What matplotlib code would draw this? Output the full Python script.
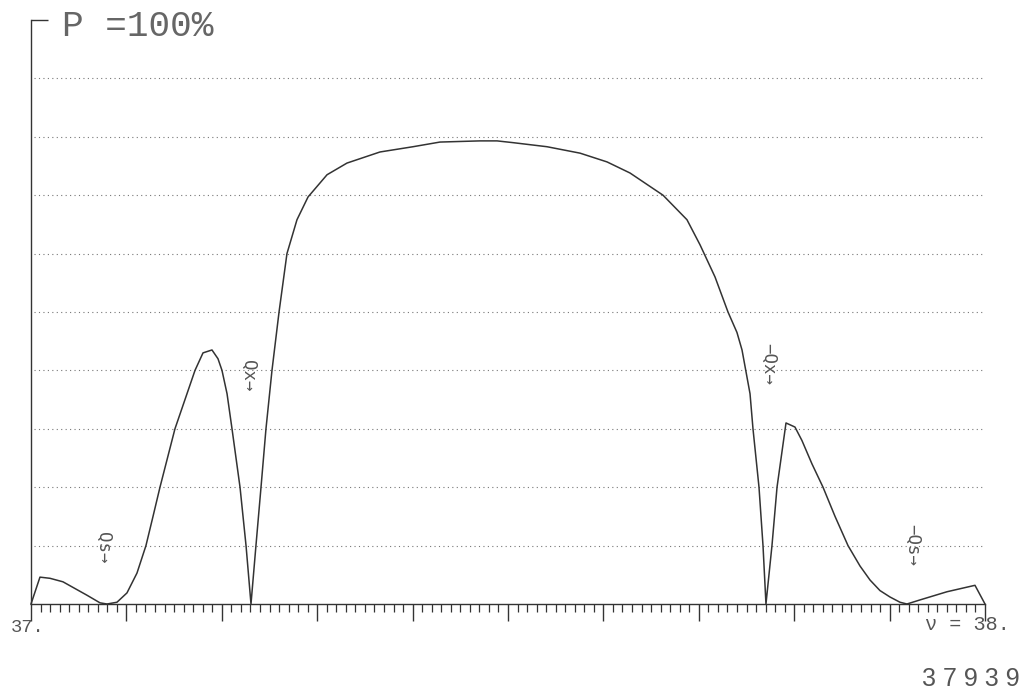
import numpy as np
import matplotlib
matplotlib.use("Agg")
import matplotlib.pyplot as plt
from matplotlib.ticker import MultipleLocator

# frequency (nu) and relative power P in percent
nu = [37.0000, 37.0094, 37.0199, 37.0335, 37.0587, 37.0723, 37.0797, 37.0901,
      37.1006, 37.1111, 37.1205, 37.1279, 37.1352, 37.1509, 37.1614, 37.1719,
      37.1803, 37.1897, 37.1960, 37.2002, 37.2055, 37.2107, 37.2191, 37.2254,
      37.2306, 37.2358, 37.2411, 37.2463, 37.2526, 37.2600, 37.2683, 37.2788,
      37.2904, 37.3103, 37.3312, 37.3658, 37.4004, 37.4287, 37.4706, 37.4885,
      37.5052, 37.5409, 37.5755, 37.6038, 37.6279, 37.6625, 37.6876, 37.7013,
      37.7170, 37.7306, 37.7400, 37.7453, 37.7537, 37.7568, 37.7631, 37.7673,
      37.7704, 37.7767, 37.7820, 37.7914, 37.8008, 37.8081, 37.8186, 37.8302,
      37.8428, 37.8564, 37.8690, 37.8795, 37.8899, 37.9004, 37.9109, 37.9182,
      37.9319, 37.9602, 37.9895, 38.0000]
power = [0.0, 4.6, 4.4, 3.8, 1.5, 0.2, 0.0, 0.3,
         1.9, 5.3, 10.0, 15.0, 20.0, 30.0, 35.0, 40.0,
         43.0, 43.5, 42.0, 40.0, 36.0, 30.0, 20.0, 10.0,
         0.0, 10.0, 20.0, 30.0, 40.0, 50.0, 60.0, 65.8,
         69.7, 73.5, 75.5, 77.4, 78.3, 79.1, 79.3, 79.3,
         79.0, 78.3, 77.2, 75.7, 73.8, 70.0, 65.8, 61.5,
         56.0, 50.0, 46.5, 43.5, 36.0, 30.0, 20.0, 10.0,
         0.0, 10.0, 20.0, 31.0, 30.3, 28.0, 24.0, 20.0,
         15.0, 10.0, 6.5, 4.1, 2.3, 1.2, 0.3, 0.0,
         0.7, 2.1, 3.2, 0.0]

# peak labels: text, position (nu, P)
peak_labels = ["Qs\u2192", "Qx\u2192", "\u2212Qx\u2192", "\u2212Qs\u2192"]
peak_nu = [37.0755, 37.2275, 37.7725, 37.9235]
peak_p = [9.6, 39.0, 41.1, 10.1]

ink = "#333333"
txt = "#555555"

fig = plt.figure(figsize=(10.27, 6.95), dpi=100)
ax = fig.add_axes([31 / 1027, 91 / 695, 954 / 1027, 584 / 695])
ax.set_xlim(37, 38)
ax.set_ylim(0, 100)

for s in ["top", "right"]:
    ax.spines[s].set_visible(False)
for s in ["left", "bottom"]:
    ax.spines[s].set_color(ink)
    ax.spines[s].set_linewidth(1.0)

# dotted levels every 10 %
for lev in range(10, 100, 10):
    ax.axhline(lev, xmin=0.003, xmax=1.0, color="#777777", lw=0.8,
               linestyle=(0, (1, 3)))

ax.plot(nu, power, color=ink, lw=1.1, clip_on=False)

ax.xaxis.set_major_locator(MultipleLocator(0.1))
ax.xaxis.set_minor_locator(MultipleLocator(0.01))
ax.tick_params(axis="x", which="major", direction="out", length=12,
               width=1.0, color=ink, labelbottom=False)
ax.tick_params(axis="x", which="minor", direction="out", length=6,
               width=0.9, color=ink)
ax.set_yticks([100])
ax.tick_params(axis="y", direction="in", length=12, width=1.0, color=ink,
               labelleft=False)
ax.yaxis.set_minor_locator(plt.NullLocator())

for lab, x, y in zip(peak_labels, peak_nu, peak_p):
    ax.text(x, y, lab, rotation=-90, ha="center", va="center",
            fontsize=12.5, color=txt, family="DejaVu Sans Mono")

fig.text(62 / 1027, 1 - 27 / 695, "P =100%", ha="left", va="center",
         fontsize=26, color="#666666", family="Liberation Mono")
fig.text(11 / 1027, 1 - 627 / 695, "37.", ha="left", va="center",
         fontsize=13.5, color=txt, family="Liberation Mono")
fig.text(1010 / 1027, 1 - 624 / 695, "\u03bd = 38.", ha="right", va="center",
         fontsize=14.5, color=txt, family="Liberation Mono")
fig.text(1020 / 1027, 1 - 679 / 695, "3 7 9 3 9", ha="right", va="center",
         fontsize=18, color=txt, family="Liberation Sans")

fig.savefig("out.png", dpi=100)
